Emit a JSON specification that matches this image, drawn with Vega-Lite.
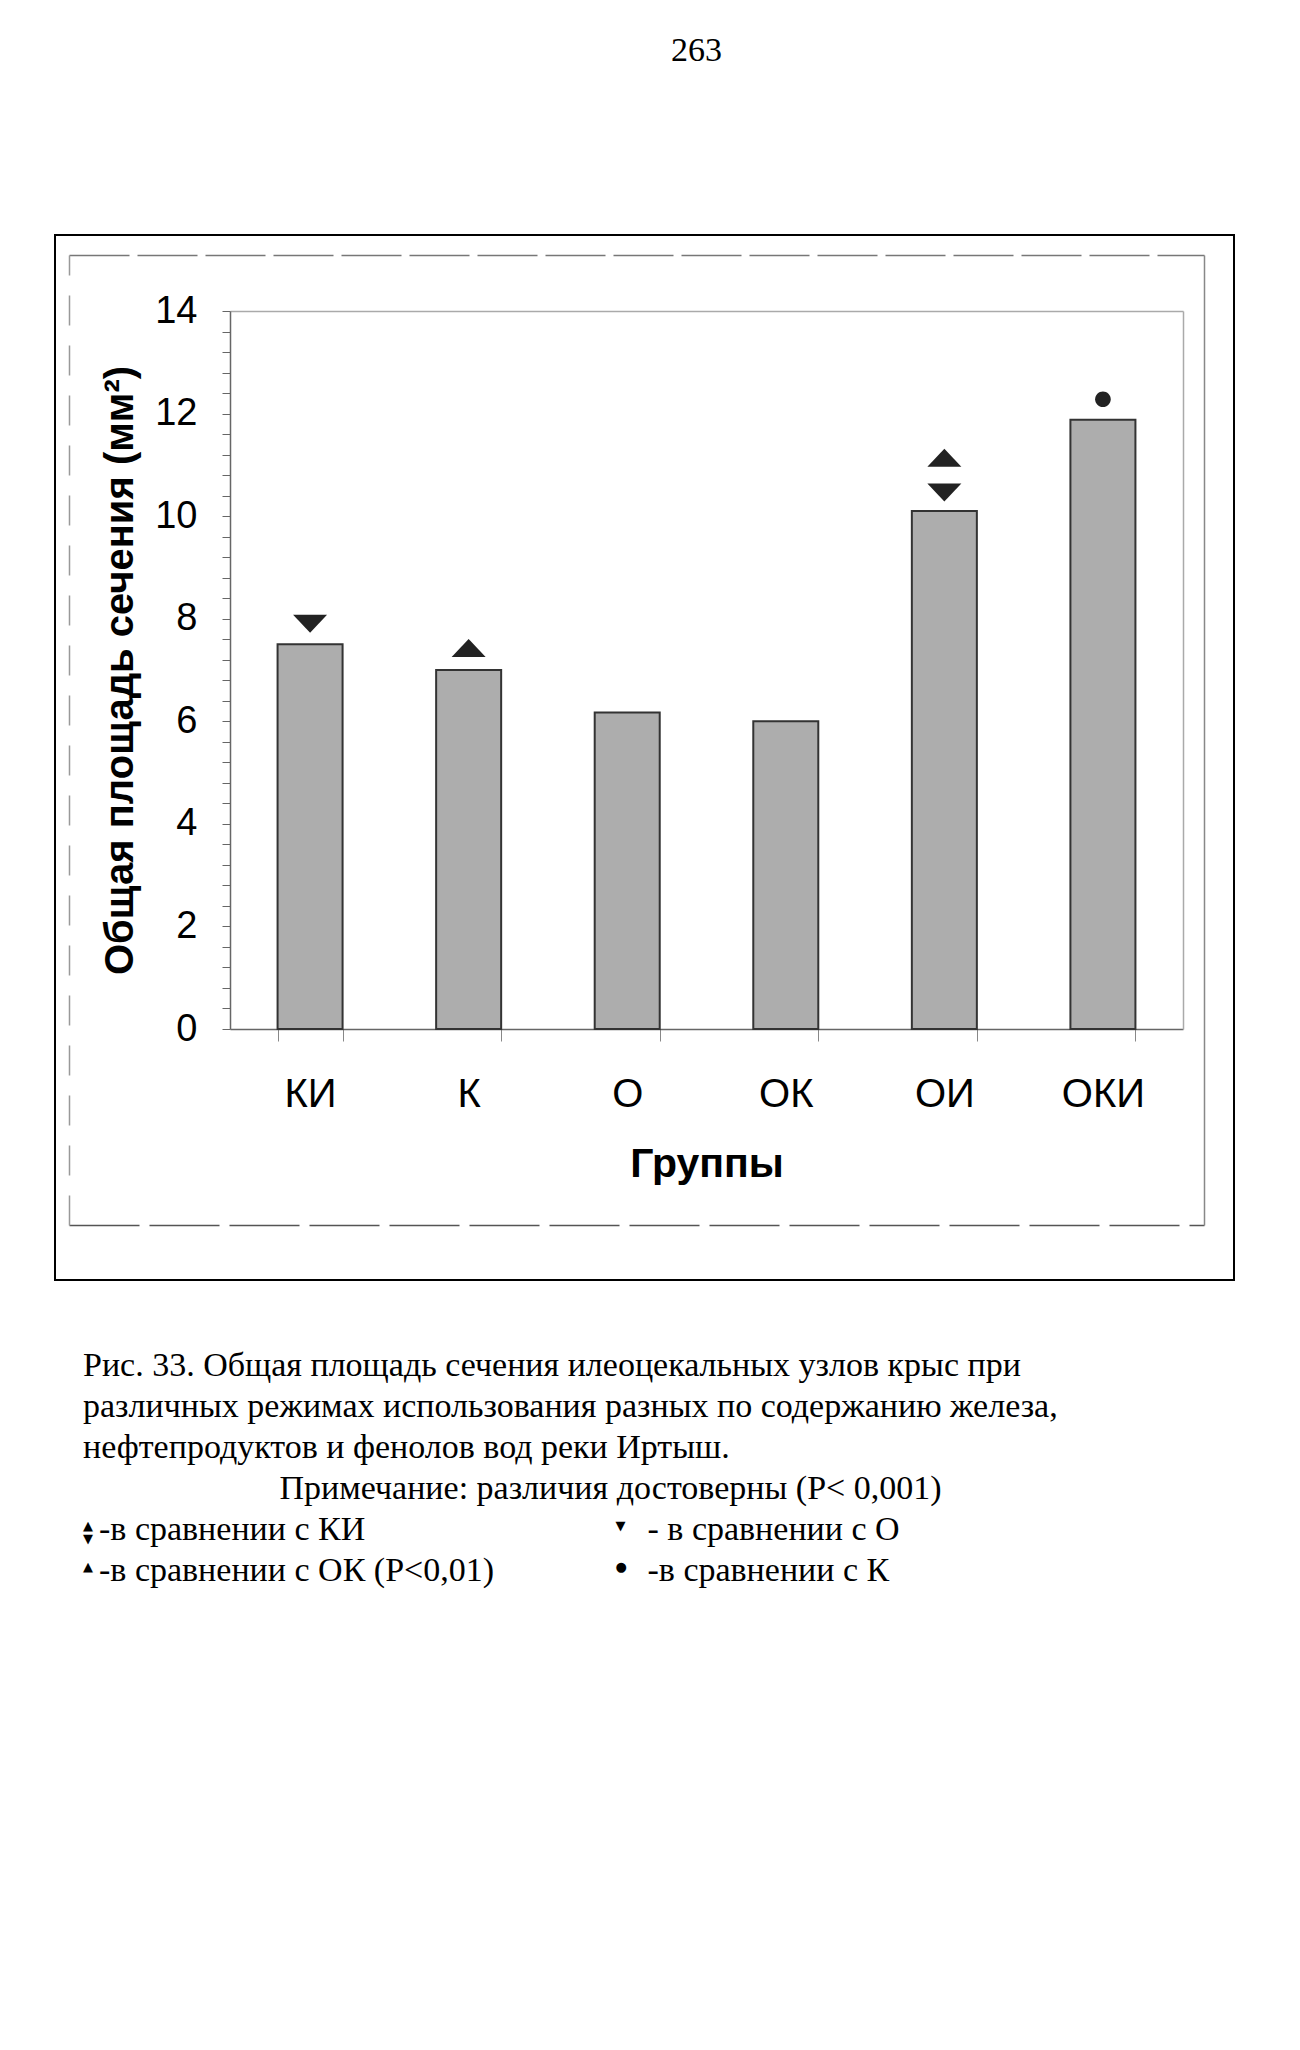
{
  "$schema": "https://vega.github.io/schema/vega-lite/v6.json",
  "padding": {"left": 54, "top": 34, "right": 0, "bottom": 0},
  "title": {"text": "263", "font": "Liberation Serif", "fontSize": 34, "fontWeight": "normal", "color": "black", "anchor": "middle", "dx": 52, "offset": 166},
  "spacing": 64,
  "config": {"view": {"stroke": "black", "strokeWidth": 2}, "font": "Liberation Sans"},
  "vconcat": [
    {
      "width": 1179,
      "height": 1045,
      "resolve": {"scale": {"x": "independent", "y": "independent"}, "axis": {"x": "independent", "y": "independent"}},
      "layer": [
        {
          "data": {"values": [
            {"group": "КИ", "value": 7.5},
            {"group": "К", "value": 7.0},
            {"group": "О", "value": 6.17},
            {"group": "ОК", "value": 6.0},
            {"group": "ОИ", "value": 10.1},
            {"group": "ОКИ", "value": 11.88}
          ]},
          "mark": {"type": "bar", "fill": "#adadad", "stroke": "#333333", "strokeWidth": 2},
          "encoding": {
            "x": {"field": "group", "type": "nominal", "sort": null,
              "scale": {"type": "band", "domain": ["КИ", "К", "О", "ОК", "ОИ", "ОКИ"], "range": [175, 1128], "paddingInner": 0.59, "paddingOuter": 0.3},
              "axis": {"orient": "bottom", "offset": -251, "title": "Группы", "titleFont": "Liberation Sans", "titleFontSize": 41, "titleFontWeight": "bold", "titleColor": "black", "titlePadding": 30,
                "labelFont": "Liberation Sans", "labelFontSize": 40, "labelColor": "black", "labelPadding": 33, "labelAngle": 0,
                "tickBand": "extent", "tickSize": 12, "tickColor": "#888888", "domainColor": "#666666", "domainWidth": 1.5, "grid": false}},
            "y": {"field": "value", "type": "quantitative",
              "scale": {"domain": [0, 14], "range": [794, 76], "nice": false},
              "axis": {"orient": "left", "offset": -175,
                "values": [0, 0.4, 0.8, 1.2, 1.6, 2, 2.4, 2.8, 3.2, 3.6, 4, 4.4, 4.8, 5.2, 5.6, 6, 6.4, 6.8, 7.2, 7.6, 8, 8.4, 8.8, 9.2, 9.6, 10, 10.4, 10.8, 11.2, 11.6, 12, 12.4, 12.8, 13.2, 13.6, 14],
                "labelExpr": "datum.value % 2 == 0 ? format(datum.value, 'd') : ''",
                "labelFont": "Liberation Sans", "labelFontSize": 38, "labelColor": "black", "labelPadding": 25,
                "tickSize": 8, "tickColor": "#666666", "domainColor": "#666666", "domainWidth": 1.5, "grid": false,
                "title": "Общая площадь сечения (мм²)", "titleFont": "Liberation Sans", "titleFontSize": 40, "titleFontWeight": "bold", "titleColor": "black", "titlePadding": 14}}
          }
        },
        {
          "data": {"values": [
            {"group": "КИ", "marker": "down", "pos": 7.9},
            {"group": "К", "marker": "up", "pos": 7.43},
            {"group": "ОИ", "marker": "up", "pos": 11.14},
            {"group": "ОИ", "marker": "down", "pos": 10.46},
            {"group": "ОКИ", "marker": "dot", "pos": 12.28}
          ]},
          "mark": {"type": "point", "filled": true, "color": "#222222", "opacity": 1, "strokeWidth": 0, "size": 1156},
          "encoding": {
            "x": {"field": "group", "type": "nominal", "sort": null,
              "scale": {"type": "band", "domain": ["КИ", "К", "О", "ОК", "ОИ", "ОКИ"], "range": [175, 1128], "paddingInner": 0.59, "paddingOuter": 0.3},
              "axis": {"orient": "top", "offset": -76, "labels": false, "ticks": false, "title": null, "grid": false, "domainColor": "#aaaaaa", "domainWidth": 1.5}},
            "y": {"field": "pos", "type": "quantitative",
              "scale": {"domain": [0, 14], "range": [794, 76], "nice": false},
              "axis": {"orient": "right", "offset": -51, "labels": false, "ticks": false, "title": null, "grid": false, "domainColor": "#aaaaaa", "domainWidth": 1.5}},
            "shape": {"field": "marker", "type": "nominal", "legend": null,
              "scale": {"domain": ["up", "down", "dot"], "range": ["M-1,0.53L1,0.53L0,-0.53Z", "M-1,-0.53L1,-0.53L0,0.53Z", "M0.46,0A0.46,0.46 0 1,1 -0.46,0A0.46,0.46 0 1,1 0.46,0Z"]}}
          }
        },
        {
          "data": {"values": [{"frame": "inner"}]},
          "mark": {"type": "point", "opacity": 0},
          "encoding": {
            "x": {"datum": 0.5, "type": "quantitative",
              "scale": {"domain": [0, 1], "range": [14, 1149], "nice": false, "zero": false},
              "axis": {"orient": "top", "offset": -20, "labels": false, "ticks": false, "title": null, "grid": false, "domainColor": "#777777", "domainDash": [60, 8], "domainWidth": 1.5}},
            "y": {"datum": 0.5, "type": "quantitative",
              "scale": {"domain": [0, 1], "range": [990, 20], "nice": false, "zero": false},
              "axis": {"orient": "left", "offset": -14, "labels": false, "ticks": false, "title": null, "grid": false, "domainColor": "#999999", "domainDash": [30, 20], "domainWidth": 1.5}}
          }
        },
        {
          "data": {"values": [{"frame": "inner"}]},
          "mark": {"type": "point", "opacity": 0},
          "encoding": {
            "x": {"datum": 0.5, "type": "quantitative",
              "scale": {"domain": [0, 1], "range": [14, 1149], "nice": false, "zero": false},
              "axis": {"orient": "bottom", "offset": -55, "labels": false, "ticks": false, "title": null, "grid": false, "domainColor": "#555555", "domainDash": [70, 10], "domainWidth": 1.5}},
            "y": {"datum": 0.5, "type": "quantitative",
              "scale": {"domain": [0, 1], "range": [990, 20], "nice": false, "zero": false},
              "axis": {"orient": "right", "offset": -30, "labels": false, "ticks": false, "title": null, "grid": false, "domainColor": "#888888", "domainWidth": 1.5}}
          }
        }
      ]
    },
    {
      "width": 1065,
      "height": 246,
      "view": {"stroke": null},
      "data": {"values": [
        {"line": 1, "kind": "body", "col": "left", "text": "Рис. 33. Общая площадь сечения илеоцекальных узлов крыс при"},
        {"line": 2, "kind": "body", "col": "left", "text": "различных режимах использования разных по содержанию железа,"},
        {"line": 3, "kind": "body", "col": "left", "text": "нефтепродуктов и фенолов вод реки Иртыш."},
        {"line": 4, "kind": "note", "col": "mid", "text": "Примечание: различия достоверны (P< 0,001)"},
        {"line": 5, "kind": "legend", "col": "left", "sym": "▲\n▼", "text": "-в сравнении с КИ"},
        {"line": 5, "kind": "legend", "col": "mid", "sym": "▼", "text": "- в сравнении с О"},
        {"line": 6, "kind": "legend", "col": "left", "sym": "▲", "text": "-в сравнении с ОК (P<0,01)"},
        {"line": 6, "kind": "legend", "col": "mid", "sym": "●", "text": "-в сравнении с К"}
      ]},
      "encoding": {
        "x": {"field": "col", "type": "nominal", "scale": {"type": "point", "domain": ["left", "mid", "right"], "padding": 0}, "axis": null},
        "y": {"field": "line", "type": "ordinal", "scale": {"type": "point", "padding": 0.5}, "axis": null}
      },
      "layer": [
        {
          "transform": [{"filter": "datum.kind == 'body'"}],
          "mark": {"type": "text", "align": "left", "baseline": "middle", "font": "Liberation Serif", "fontSize": 34, "color": "black", "dx": 28},
          "encoding": {"text": {"field": "text"}}
        },
        {
          "transform": [{"filter": "datum.kind == 'note'"}],
          "mark": {"type": "text", "align": "center", "baseline": "middle", "font": "Liberation Serif", "fontSize": 34, "color": "black", "dx": 23},
          "encoding": {"text": {"field": "text"}}
        },
        {
          "transform": [{"filter": "datum.kind == 'legend'"}],
          "mark": {"type": "text", "align": "left", "baseline": "middle", "font": "DejaVu Sans", "fontSize": 13, "lineBreak": "\n", "lineHeight": 13, "color": "black", "dx": 28, "dy": -4},
          "encoding": {"text": {"field": "sym"}}
        },
        {
          "transform": [{"filter": "datum.kind == 'legend' && datum.col == 'left'"}],
          "mark": {"type": "text", "align": "left", "baseline": "middle", "font": "Liberation Serif", "fontSize": 34, "color": "black", "dx": 44},
          "encoding": {"text": {"field": "text"}}
        },
        {
          "transform": [{"filter": "datum.kind == 'legend' && datum.col == 'mid'"}],
          "mark": {"type": "text", "align": "left", "baseline": "middle", "font": "Liberation Serif", "fontSize": 34, "color": "black", "dx": 60},
          "encoding": {"text": {"field": "text"}}
        }
      ]
    }
  ]
}
